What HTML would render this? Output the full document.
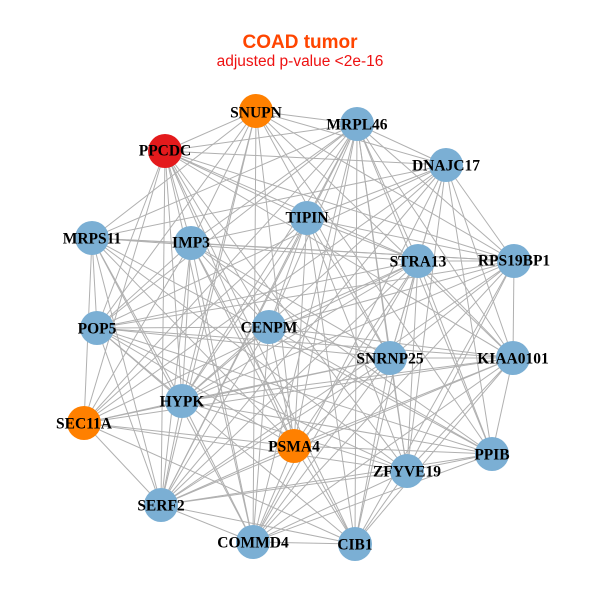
<!DOCTYPE html>
<html><head><meta charset="utf-8"><style>
html,body{margin:0;padding:0;background:#fff;}
svg{display:block;}
.l{font-family:"Liberation Serif",serif;font-weight:bold;font-size:15.5px;fill:#000;text-anchor:middle;dominant-baseline:central;}
</style></head><body>
<svg id="s" width="600" height="600" viewBox="0 0 600 600">
<text x="300" y="48" text-anchor="middle" font-family="Liberation Sans,sans-serif" font-weight="bold" font-size="19" fill="#ff4500">COAD tumor</text>
<text x="300" y="66" text-anchor="middle" font-family="Liberation Sans,sans-serif" font-size="15.5" fill="#ee1111">adjusted p-value &lt;2e-16</text>
<g id="edges" stroke="#b0b0b0" stroke-width="1"></g>
<g id="nodes"></g>
<g>
<text class="l" x="256" y="113">SNUPN</text>
<text class="l" x="165" y="151">PPCDC</text>
<text class="l" x="357" y="125">MRPL46</text>
<text class="l" x="446" y="166">DNAJC17</text>
<text class="l" x="307" y="218">TIPIN</text>
<text class="l" x="191" y="243">IMP3</text>
<text class="l" x="92" y="239">MRPS11</text>
<text class="l" x="418" y="262">STRA13</text>
<text class="l" x="514" y="261">RPS19BP1</text>
<text class="l" x="97" y="329">POP5</text>
<text class="l" x="269" y="328">CENPM</text>
<text class="l" x="390" y="359">SNRNP25</text>
<text class="l" x="513" y="359">KIAA0101</text>
<text class="l" x="182" y="402">HYPK</text>
<text class="l" x="84" y="424">SEC11A</text>
<text class="l" x="294" y="447">PSMA4</text>
<text class="l" x="492" y="455">PPIB</text>
<text class="l" x="407" y="472">ZFYVE19</text>
<text class="l" x="161" y="506">SERF2</text>
<text class="l" x="253" y="543">COMMD4</text>
<text class="l" x="355" y="545">CIB1</text>
</g>
</svg>
<script>
var N=[[256,111,"#ff8000"],[165,151,"#e41a1c"],[357,124],[446,165],[307,218],[191,243],[92,238],[418,261],[514,261],[97,328],[269,327],[390,358],[513,358],[182,401],[84,423,"#ff8000"],[294,446,"#ff8000"],[492,454],[407,471],[161,505],[253,542],[355,544]];
var e=document.getElementById("edges"),g=document.getElementById("nodes"),ns="http://www.w3.org/2000/svg";
for(var i=0;i<N.length;i++)for(var j=i+1;j<N.length;j++){
 if(((i*7+j*13+i*j)%10)<3)continue;
 var l=document.createElementNS(ns,"line");
 l.setAttribute("x1",N[i][0]);l.setAttribute("y1",N[i][1]);l.setAttribute("x2",N[j][0]);l.setAttribute("y2",N[j][1]);e.appendChild(l);}
for(var k=0;k<N.length;k++){var c=document.createElementNS(ns,"circle");
 c.setAttribute("cx",N[k][0]);c.setAttribute("cy",N[k][1]);c.setAttribute("r",17);c.setAttribute("fill",N[k][2]||"#7bafd4");g.appendChild(c);}
</script>
</body></html>
